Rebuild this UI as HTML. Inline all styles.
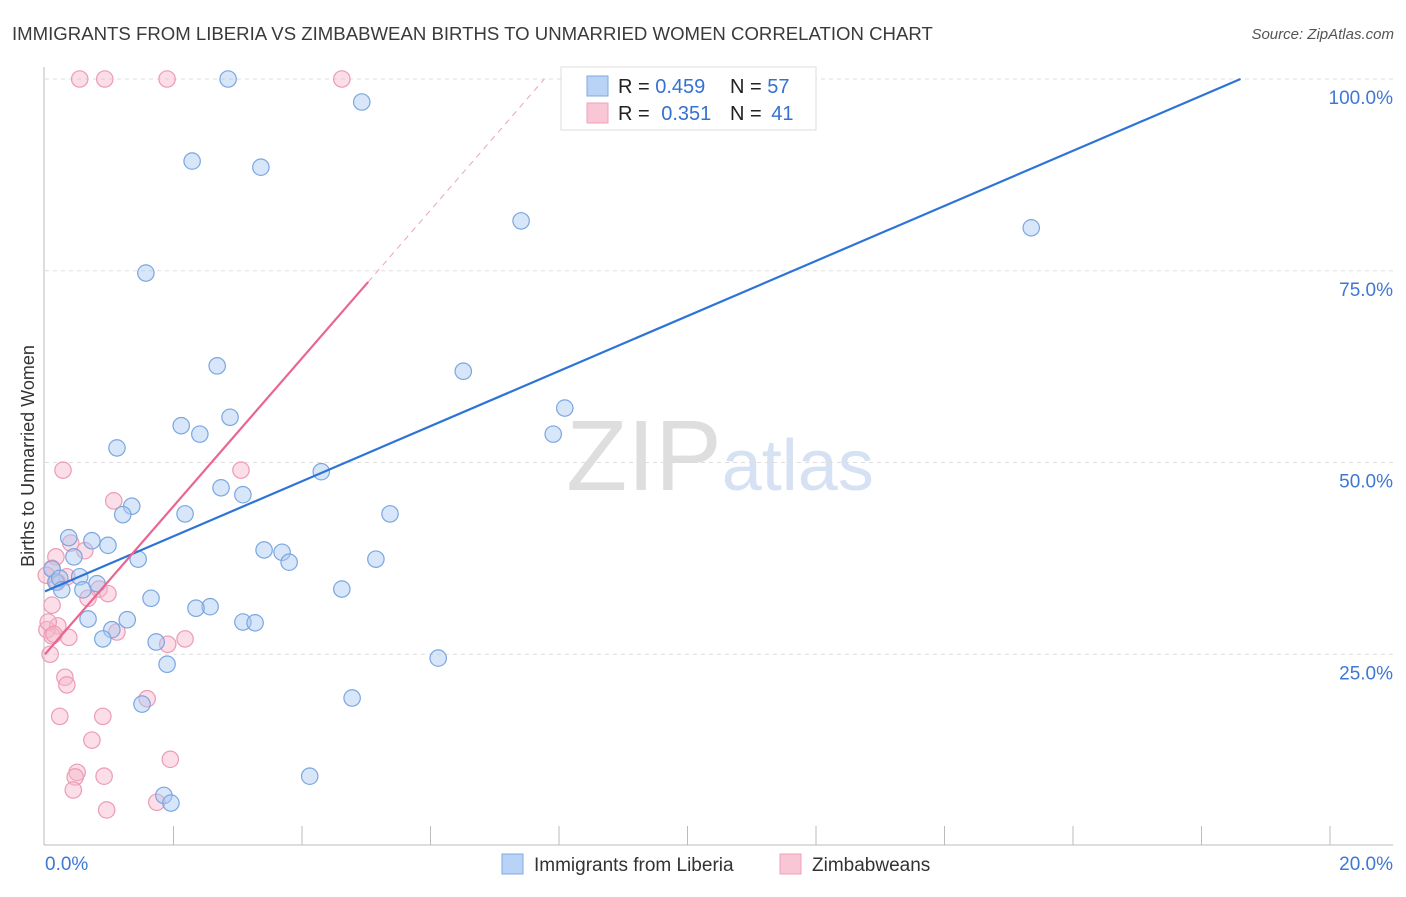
<!DOCTYPE html>
<html><head><meta charset="utf-8">
<style>
body{margin:0;background:#fff;font-family:"Liberation Sans",sans-serif;}
svg text{font-family:"Liberation Sans",sans-serif;}
</style></head>
<body>
<svg id="chart" width="1406" height="892" viewBox="0 0 1406 892" xmlns="http://www.w3.org/2000/svg">
<text x="12" y="40" font-size="18.6" fill="#3a3a3a">IMMIGRANTS FROM LIBERIA VS ZIMBABWEAN BIRTHS TO UNMARRIED WOMEN CORRELATION CHART</text>
<text x="1394" y="39" font-size="15" fill="#555" text-anchor="end" font-style="italic">Source: ZipAtlas.com</text>
<text x="720" y="490" font-size="100" text-anchor="middle" fill="#e4e4e4" font-family="Liberation Serif"><tspan fill="#dedede">ZIP</tspan><tspan fill="#d6e2f4" font-family="Liberation Sans" font-size="72">atlas</tspan></text>
<g id="grid"></g>
<g id="axes"></g>
<g id="pinkPts"></g>
<g id="bluePts"></g>
<g id="trends"></g>
<text transform="translate(34,456) rotate(-90)" font-size="18" fill="#333" text-anchor="middle">Births to Unmarried Women</text>
<g>
<rect x="561" y="67" width="255" height="63" fill="#fff" stroke="#ddd"/>
<rect x="587" y="76" width="21" height="20" fill="#b8d3f5" stroke="#7ea9e0"/>
<rect x="587" y="103" width="21" height="20" fill="#f9c6d5" stroke="#eea0b8"/>
<text x="618" y="93" font-size="20" fill="#222">R = <tspan fill="#3571d0">0.459</tspan></text>
<text x="730" y="93" font-size="20" fill="#222">N = <tspan fill="#3571d0">57</tspan></text>
<text x="618" y="120" font-size="20" fill="#222">R = <tspan fill="#3571d0" dx="6">0.351</tspan></text>
<text x="730" y="120" font-size="20" fill="#222">N = <tspan fill="#3571d0" dx="4">41</tspan></text>
</g>
<g>
<rect x="502" y="854" width="21" height="20" fill="#b8d3f5" stroke="#7ea9e0"/>
<text x="534" y="871" font-size="19" fill="#333">Immigrants from Liberia</text>
<rect x="780" y="854" width="21" height="20" fill="#f9c6d5" stroke="#eea0b8"/>
<text x="812" y="871" font-size="19" fill="#333">Zimbabweans</text>
</g>
</svg>
<script>
const blueX=[2.85,4.93,2.29,3.36,7.41,15.35,1.57,2.68,6.51,8.09,7.91,2.88,2.12,2.41,1.12,4.30,2.74,3.08,1.35,1.21,2.18,5.37,0.37,0.73,0.98,0.45,1.45,3.41,3.69,3.80,5.15,0.11,0.54,0.17,0.23,0.81,0.59,0.26,1.65,4.62,2.57,2.35,1.28,0.67,3.08,3.27,1.04,0.90,1.73,1.90,6.12,4.78,1.51,4.12,1.85,1.96,11.16];
const blueY=[100,97.0,89.3,88.5,81.5,80.6,74.7,62.6,61.9,57.1,53.7,55.9,54.8,53.7,51.9,48.8,46.7,45.8,44.3,43.2,43.3,43.3,40.2,39.8,39.2,37.7,37.4,38.6,38.3,37.0,37.4,36.1,35.1,34.4,34.9,34.2,33.4,33.4,32.3,33.5,31.2,31.0,29.5,29.6,29.2,29.1,28.2,27.0,26.6,23.7,24.5,19.3,18.5,9.1,6.6,5.6,100];
const pinkX=[0.54,0.93,1.90,4.62,0.28,3.05,1.07,0.40,0.62,0.17,0.11,0.34,0.19,0.84,0.98,0.67,0.11,0.20,0.03,0.11,0.37,1.12,2.18,1.91,0.08,0.31,0.34,1.59,0.23,0.90,0.73,1.95,0.50,0.47,0.92,0.44,0.96,1.74,0.05,0.14,0.02];
const pinkY=[100,100,100,100,49.0,49.0,45.0,39.5,38.5,37.7,36.2,35.1,34.4,33.5,32.9,32.3,31.4,28.7,28.2,27.4,27.2,27.9,27.0,26.3,25.0,22.0,21.0,19.2,16.9,16.9,13.8,11.3,9.6,9.0,9.1,7.3,4.7,5.7,29.2,27.6,35.3];
const yTicks=[25,50,75,100];
const yTickLabels=["25.0%","50.0%","75.0%","100.0%"];
const xTicks=[0,2,4,6,8,10,12,14,16,18,20];
const xTickLabels=["0.0%","20.0%"];
const blueTrend=[33.2,3.59];
const pinkTrend=[25.0,9.65];
const NS="http://www.w3.org/2000/svg";
const sx=v=>45+v/20*1285;
const sy=v=>846-v/100*767;
function mk(tag,attrs,parent){const e=document.createElementNS(NS,tag);for(const k in attrs)e.setAttribute(k,attrs[k]);parent.appendChild(e);return e;}
const grid=document.getElementById('grid'),axes=document.getElementById('axes');
yTicks.forEach((t,i)=>{
 const l=mk('line',{x1:45,x2:1393,y1:sy(t),y2:sy(t),stroke:'#ddd','stroke-dasharray':'4,4'},grid);
 
 
 const tx=mk('text',{x:1393,y:sy(t)+25,'font-size':19,fill:'#3e78d4','text-anchor':'end'},axes);
 
 
 tx.textContent=yTickLabels[i];
});
mk('line',{x1:44,x2:44,y1:67,y2:845,stroke:'#bbb'},axes);
mk('line',{x1:44,x2:1393,y1:845,y2:845,stroke:'#bbb'},axes);
xTicks.slice(1).forEach(t=>{
 const l=mk('line',{x1:sx(t),x2:sx(t),y1:826,y2:845,stroke:'#bbb'},axes);
 
 
});
const xl0=mk('text',{x:45,y:870,'font-size':19,fill:'#3e78d4'},axes);


xl0.textContent=xTickLabels[0];
const xl1=mk('text',{x:1393,y:870,'font-size':19,fill:'#3e78d4','text-anchor':'end'},axes);


xl1.textContent=xTickLabels[1];
function pts(xs,ys,g,fill,stroke,name){
 xs.forEach((x,i)=>{
  const c=mk('circle',{cx:sx(x),cy:sy(ys[i]),r:8.2,fill:fill,'fill-opacity':0.45,stroke:stroke,'stroke-width':1.2},g);
  
  
 });
}
pts(pinkX,pinkY,document.getElementById('pinkPts'),'#f6b6ca','#ec9bb5','zimbabweans-point');
pts(blueX,blueY,document.getElementById('bluePts'),'#a8c8f2','#7aa6e0','liberia-point');
const tr=document.getElementById('trends');
const bEnd=(100-blueTrend[0])/blueTrend[1];
const bl=mk('line',{x1:sx(0),y1:sy(blueTrend[0]),x2:sx(bEnd),y2:sy(100),stroke:'#2d74d6','stroke-width':2.2},tr);


const pSolid=5.03, pEnd=(100-pinkTrend[0])/pinkTrend[1];
const pl=mk('line',{x1:sx(0),y1:sy(pinkTrend[0]),x2:sx(pSolid),y2:sy(pinkTrend[0]+pinkTrend[1]*pSolid),stroke:'#ea6592','stroke-width':2.2},tr);


const pd=mk('line',{x1:sx(pSolid),y1:sy(pinkTrend[0]+pinkTrend[1]*pSolid),x2:sx(pEnd),y2:sy(100),stroke:'#e9a5bb','stroke-width':1,'stroke-dasharray':'6,5'},tr);


</script>
</body></html>
